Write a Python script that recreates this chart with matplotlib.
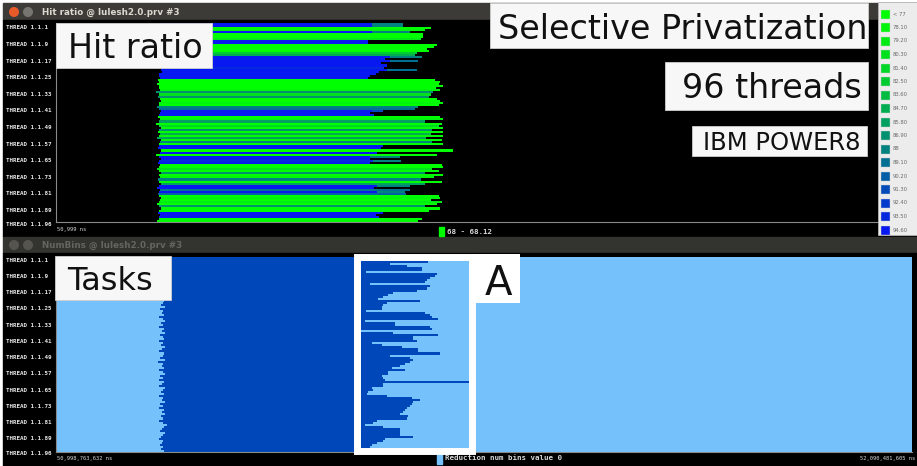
import matplotlib
matplotlib.use("Agg")
import matplotlib.pyplot as plt
import numpy as np
from matplotlib.patches import Rectangle, Circle
from matplotlib.colors import LinearSegmentedColormap
from matplotlib.transforms import blended_transform_factory

# ---------------- trace data ----------------
t_begin_ns = 50_998_763_632
t_end_ns = 52_090_481_605
span_ms = (t_end_ns - t_begin_ns) / 1e6

labelled_threads = [1, 9, 17, 25, 33, 41, 49, 57, 65, 73, 81, 89, 96]

legend_labels = ["< 77", "78.10", "79.20", "80.30", "81.40", "82.50", "83.60",
                 "84.70", "85.80", "86.90", "88", "89.10", "90.20", "91.30",
                 "92.40", "93.50", "94.60"]
legend_values = [77.0, 78.1, 79.2, 80.3, 81.4, 82.5, 83.6, 84.7, 85.8, 86.9,
                 88.0, 89.1, 90.2, 91.3, 92.4, 93.5, 94.6]

# Hit ratio timeline: start (ms), main value, main end (ms)
hit_start = [134, 134, 133, 134, 135, 134, 133, 134, 135, 134, 134, 133,
             134, 135, 134, 133, 134, 134, 135, 134, 133, 134, 134, 135,
             132, 131, 133, 130, 131, 129, 132, 131, 133, 128, 131, 130,
             133, 134, 131, 132, 129, 131, 134, 133, 132, 130, 133, 131,
             128, 132, 134, 131, 130, 133, 131, 129, 134, 133, 132, 131,
             130, 134, 133, 128, 131, 134, 132, 130, 133, 131, 129, 132,
             134, 131, 133, 130, 132, 134, 131, 129, 133, 131, 130, 132,
             134, 133, 131, 129, 132, 134, 131, 130, 133, 131, 132, 129]
hit_value = [94.6, 94.6, 77.0, 78.1, 94.6, 77.0, 77.0, 79.2, 94.6, 94.6, 77.0, 77.0,
             77.0, 77.0, 82.5, 84.7, 94.6, 94.6, 94.6, 94.6, 94.6, 93.5, 94.6, 94.6,
             94.6, 94.6, 94.6, 77.0, 77.0, 77.0, 77.0, 77.0, 78.1, 86.9, 80.3, 86.9,
             77.0, 77.0, 78.1, 77.0, 88.0, 89.1, 94.6, 94.6, 94.6, 77.0, 78.1, 85.8,
             77.0, 81.4, 77.0, 86.9, 77.0, 84.7, 77.0, 85.8, 77.0, 88.0, 77.0, 94.6,
             94.6, 77.0, 94.6, 77.0, 94.6, 94.6, 93.5, 94.6, 77.0, 77.0, 80.3, 77.0,
             86.9, 77.0, 78.1, 88.0, 77.0, 85.8, 94.6, 94.6, 89.1, 94.6, 90.2, 77.0,
             78.1, 77.0, 79.2, 77.0, 86.9, 77.0, 77.0, 94.6, 94.6, 94.6, 77.0, 77.0]
hit_end = [403, 403, 478, 470, 403, 468, 468, 465, 398, 398, 486, 482,
           473, 476, 460, 458, 426, 420, 426, 415, 422, 418, 422, 412,
           408, 400, 398, 484, 490, 488, 494, 485, 490, 481, 478, 476,
           486, 490, 494, 488, 462, 458, 403, 400, 405, 490, 494, 470,
           492, 488, 494, 480, 494, 478, 494, 472, 492, 480, 494, 417,
           414, 506, 410, 486, 400, 400, 404, 400, 492, 494, 480, 488,
           470, 494, 482, 466, 492, 470, 410, 405, 451, 410, 446, 488,
           490, 478, 492, 486, 470, 490, 476, 417, 408, 412, 467, 462]
# trailing segment after the main one: row -> (value, end ms)
hit_tail = {0: (88.0, 443), 1: (88.0, 443), 4: (88.0, 451), 16: (88.0, 467),
            18: (89.1, 462), 22: (89.1, 460), 42: (91.3, 417), 64: (88.0, 439),
            66: (88.0, 440), 78: (88.0, 451), 81: (88.0, 445)}

# NumBins timeline: reduction (non-zero bins) interval per thread, ms
task_start = [138, 138, 137, 138, 139, 138, 137, 138, 138, 139, 138, 137,
              138, 139, 138, 137, 138, 138, 139, 138, 137, 138, 136, 134,
              139, 133, 137, 135, 138, 132, 136, 139, 134, 137, 131, 138,
              135, 139, 133, 136, 138, 131, 137, 134, 139, 135, 132, 138,
              136, 133, 139, 130, 137, 135, 138, 132, 136, 139, 133, 137,
              131, 138, 135, 132, 139, 136, 134, 138, 131, 137, 135, 139,
              133, 136, 132, 138, 135, 139, 134, 137, 131, 136, 142, 138,
              135, 133, 139, 136, 134, 132, 137, 135, 133, 136, 134, 138]
task_end = [474.9, 474.9, 474.9, 426.0, 447.3, 466.4, 466.4, 395.4, 485.5, 483.4,
            477.0, 472.8, 470.6, 400.5, 477.0, 472.8, 460.0, 430.3, 423.9, 417.5,
            411.1, 464.3, 421.8, 417.5, 415.4, 415.4, 395.4, 470.6, 477.0, 479.1,
            487.7, 394.1, 432.4, 432.4, 477.0, 479.1, 383.5, 430.3, 487.7, 455.8,
            455.8, 460.0, 402.6, 415.4, 440.9, 462.1, 462.1, 489.8, 426.0, 451.5,
            455.8, 451.5, 445.1, 438.8, 428.1, 445.1, 423.9, 423.9, 415.4, 417.5,
            419.6, 528.0, 417.5, 417.5, 402.6, 404.8, 398.4, 396.3, 421.8, 453.6,
            464.3, 455.8, 453.6, 451.5, 447.3, 445.1, 443.0, 438.8, 449.4, 447.3,
            409.0, 404.8, 394.1, 417.5, 438.8, 438.8, 438.8, 438.8, 455.8, 419.6,
            417.5, 409.0, 402.6, 400.5, 400.5, 404.8]

# ---------------- styling ----------------
W, H = 917, 466
BLACK = "#000000"
BAR_DARK = "#3c3b37"
LIGHT_BLUE = "#74c1fc"
DARK_BLUE = "#0048b9"
SPINE = "#8a8a8a"
MONO = "DejaVu Sans Mono"

hit_cmap = LinearSegmentedColormap.from_list(
    "hit", [(0.0, "#00ff00"), (0.3, "#00cf2e"), (0.62, "#00847e"), (1.0, "#0818f0")])


def hit_color(v):
    idx = int(np.argmin(np.abs(np.array(legend_values) - v)))
    return hit_cmap(idx / (len(legend_values) - 1))


def px_axes(fig, x0, y0, x1, y1, **kw):
    return fig.add_axes([x0 / W, 1 - y1 / H, (x1 - x0) / W, (y1 - y0) / H], **kw)


fig = plt.figure(figsize=(W / 100, H / 100), dpi=100)
fig.patch.set_facecolor("white")

# window chrome (pixel coordinates)
bg = px_axes(fig, 0, 0, W, H, zorder=0)
bg.set_xlim(0, W)
bg.set_ylim(H, 0)
bg.axis("off")
bg.add_patch(Rectangle((3, 3), W - 3, 17, color=BAR_DARK))
bg.add_patch(Rectangle((3, 20), W - 3, 217, color=BLACK))
bg.add_patch(Rectangle((3, 237), W - 3, 16, color="#33332f"))
bg.add_patch(Rectangle((3, 253), W - 3, H - 253, color=BLACK))
bg.add_patch(Circle((14, 12), 4.3, color="#e85a2a"))
bg.add_patch(Circle((28, 12), 4.3, color="#77756f"))
bg.add_patch(Circle((14, 245), 4.3, color="#55544f"))
bg.add_patch(Circle((28, 245), 4.3, color="#55544f"))
bg.text(42, 12, "Hit ratio @ lulesh2.0.prv #3", color="#dcd8cf", fontsize=6.3,
        fontweight="bold", va="center", ha="left")
bg.text(42, 245, "NumBins @ lulesh2.0.prv #3", color="#646460", fontsize=6.3,
        fontweight="bold", va="center", ha="left")

# time and value captions
bg.text(57, 229.5, "50,999 ns", color="#d8d8d8", fontsize=3.9, family=MONO,
        va="center", ha="left")
bg.add_patch(Rectangle((439, 227), 5, 9, color="#00ff00"))
bg.text(447, 231.5, "68 - 68.12", color="#d8d8d8", fontsize=5.4, family=MONO,
        fontweight="bold", va="center", ha="left")
bg.text(57, 458.5, "50,998,763,632 ns", color="#d8d8d8", fontsize=3.9, family=MONO,
        va="center", ha="left")
bg.add_patch(Rectangle((437, 454), 5, 10, color=LIGHT_BLUE))
bg.text(445, 458.5, "Reduction num bins value 0", color="#d8d8d8", fontsize=5.4,
        family=MONO, fontweight="bold", va="center", ha="left")
bg.text(915, 458.5, "52,090,481,605 ns", color="#d8d8d8", fontsize=3.9, family=MONO,
        va="center", ha="right")

rows = np.arange(len(hit_value))

# ---------------- Hit ratio timeline ----------------
ax1 = px_axes(fig, 56, 23, 912, 222, zorder=2)
ax1.set_facecolor(BLACK)
hs = np.array(hit_start, float)
he = np.array(hit_end, float)
ax1.barh(rows, he - hs, left=hs, height=1.0,
         color=[hit_color(v) for v in hit_value], linewidth=0, antialiased=False)
for r, (v, e) in hit_tail.items():
    ax1.barh(r, e - hit_end[r], left=hit_end[r], height=1.0, color=hit_color(v),
             linewidth=0, antialiased=False)
ax1.set_xlim(0, span_ms)
ax1.set_ylim(len(rows) - 0.5, -0.5)

# ---------------- NumBins timeline ----------------
ax2 = px_axes(fig, 56, 257, 912, 452, zorder=2)
ax2.set_facecolor(BLACK)
ts = np.array(task_start, float)
te = np.array(task_end, float)
ax2.barh(rows, ts, left=0, height=1.0, color=LIGHT_BLUE, linewidth=0, antialiased=False)
ax2.barh(rows, te - ts, left=ts, height=1.0, color=DARK_BLUE, linewidth=0, antialiased=False)
ax2.barh(rows, span_ms - te, left=te, height=1.0, color=LIGHT_BLUE, linewidth=0,
         antialiased=False)
ax2.set_xlim(0, span_ms)
ax2.set_ylim(len(rows) - 0.5, -0.5)

for ax, shift in ((ax1, 1.9), (ax2, 1.0)):
    ax.set_xticks([])
    ax.set_yticks([])
    for side in ("top", "right"):
        ax.spines[side].set_visible(False)
    for side in ("left", "bottom"):
        ax.spines[side].set_color(SPINE)
        ax.spines[side].set_linewidth(0.8)
    tr = blended_transform_factory(fig.transFigure, ax.transData)
    for t in labelled_threads:
        ax.text(6 / W, t - 1 + shift, f"THREAD 1.1.{t}", transform=tr, color="#e6e6e6",
                fontsize=4.2, family=MONO, fontweight="bold", va="center", ha="left",
                clip_on=False)

# ---------------- overlays: legend, captions, highlight ----------------
fg = px_axes(fig, 0, 0, W, H, zorder=5)
fg.set_xlim(0, W)
fg.set_ylim(H, 0)
fg.axis("off")
fg.patch.set_alpha(0)

fg.add_patch(Rectangle((878, 2), 39, 233, facecolor="#ececec", edgecolor="#b4b4b4",
                       linewidth=0.6))
for i, (lab, v) in enumerate(zip(legend_labels, legend_values)):
    yc = 14 + i * 13.5
    fg.add_patch(Rectangle((881, yc - 4.5), 9, 9, facecolor=hit_color(v),
                           edgecolor="#d0d0d0", linewidth=0.3))
    fg.text(893, yc, lab, color="#6a6a6a", fontsize=3.8, va="center", ha="left")

boxes = [((56, 23, 212, 68), "Hit ratio", 68, 58, 24),
         ((55, 256, 171, 300), "Tasks", 67, 290, 23),
         ((490, 3, 868, 48), "Selective Privatization", 498, 39, 24),
         ((665, 62, 868, 110), "96 threads", 682, 98, 24),
         ((692, 126, 867, 156), "IBM POWER8", 703, 150, 17.5)]
for (x0, y0, x1, y1), txt, tx, ty, fs in boxes:
    fg.add_patch(Rectangle((x0, y0), x1 - x0, y1 - y0, facecolor="#f7f7f7",
                           edgecolor="#cfcfcf", linewidth=0.6))
    fg.text(tx, ty, txt, fontsize=fs, color="#111111", va="baseline", ha="left")

# region A highlight frame
fg.add_patch(Rectangle((356.5, 256.5), 115, 194.5, fill=False, edgecolor="white",
                       linewidth=5.0))
fg.add_patch(Rectangle((473, 254), 47, 49, facecolor="white", edgecolor="white",
                       linewidth=0))
fg.text(485, 295, "A", fontsize=29, color="#111111", va="baseline", ha="left")

fig.savefig("out.png", dpi=100, facecolor=fig.get_facecolor())
